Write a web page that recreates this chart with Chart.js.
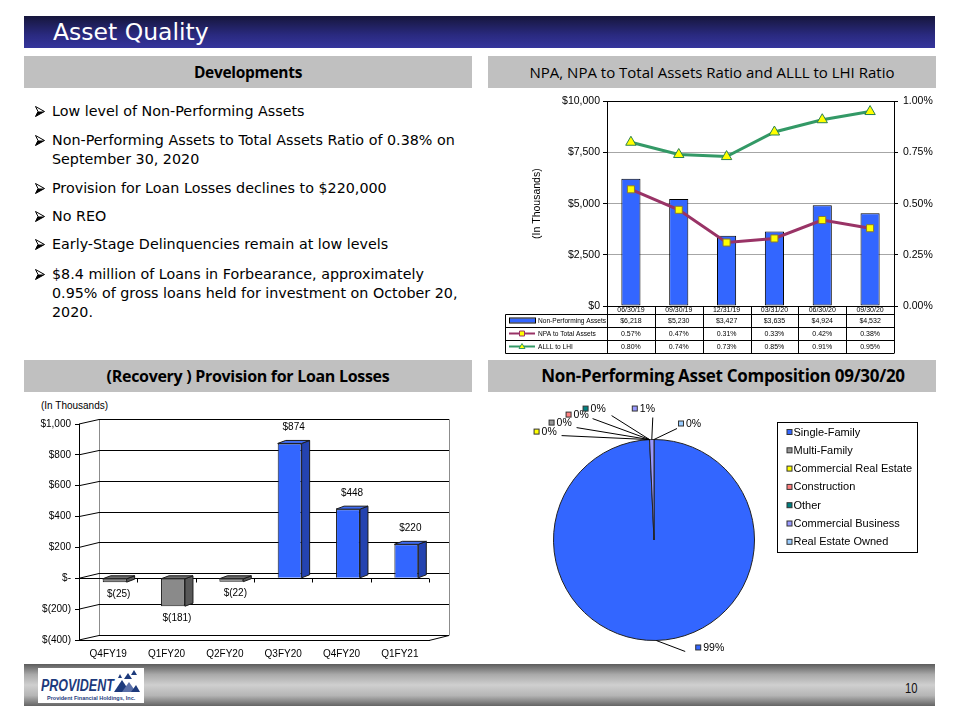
<!DOCTYPE html>
<html>
<head>
<meta charset="utf-8">
<script src="https://cdn.jsdelivr.net/npm/chart.js@4.4.0/dist/chart.umd.min.js"></script>
<style>
  html,body{margin:0;padding:0;}
  body{width:960px;height:720px;background:#fff;position:relative;overflow:hidden;font-family:"Liberation Sans",Arial,sans-serif;}
  .abs{position:absolute;}
  #titlebar{left:24px;top:16px;width:911px;height:32px;background:linear-gradient(#16163c,#2a2a80 60%,#35359c);}
  #titlebar span{position:absolute;left:29px;top:2px;color:#fff;font:23.5px "DejaVu Sans",sans-serif;line-height:28px;}
  .hdr{background:#c0c0c0;height:32px;line-height:32px;text-align:center;color:#000;white-space:nowrap;box-sizing:border-box;}
  .hb{font-family:"Open Sans",sans-serif;font-weight:bold;letter-spacing:-0.3px;}
  .hn{font-family:"Open Sans",sans-serif;}
  .bul{left:35px;white-space:nowrap;font:14.3px "DejaVu Sans",sans-serif;line-height:19px;color:#000;padding-left:17px;}
  .bul svg{position:absolute;left:0;top:4px;}
  #footer{left:24px;top:664px;width:911px;height:42px;background:linear-gradient(#5c5c5c,#a9a9a9 25%,#cfcfcf 50%,#b5b5b5 75%,#646464);}
  #logo{left:38px;top:668px;width:106px;height:35px;background:#fff;overflow:hidden;}
  canvas{position:absolute;}
</style>
</head>
<body>
<svg width="0" height="0" style="position:absolute">
  <defs>
    <g id="arrowhead">
      <polygon points="0.5,0.5 9.5,5.5 0.5,10.5 3,5.5" fill="#fff" stroke="#000" stroke-width="1" stroke-linejoin="miter"/>
      <polygon points="3,5.5 9.5,5.5 0.5,10.5" fill="#000"/>
    </g>
  </defs>
</svg>
<div id="titlebar" class="abs"><span>Asset Quality</span></div>

<div class="abs hdr hb" style="left:24px;top:56px;width:448px;font-size:15.5px;">Developments</div>
<div class="abs hdr hn" style="left:488px;top:56px;width:448px;font-size:15px;">NPA, NPA to Total Assets Ratio and ALLL to LHI Ratio</div>
<div class="abs hdr hb" style="left:24px;top:360px;width:448px;font-size:16px;">(Recovery ) Provision for Loan Losses</div>
<div class="abs hdr hb" style="left:488px;top:360px;width:448px;font-size:17px;padding-left:22px;">Non-Performing Asset Composition 09/30/20</div>

<div class="abs bul" style="top:102px;"><svg width="11" height="11"><use href="#arrowhead"/></svg>Low level of Non-Performing Assets</div>
<div class="abs bul" style="top:131px;"><svg width="11" height="11"><use href="#arrowhead"/></svg>Non-Performing Assets to Total Assets Ratio of 0.38% on<br>September 30, 2020</div>
<div class="abs bul" style="top:179px;"><svg width="11" height="11"><use href="#arrowhead"/></svg>Provision for Loan Losses declines to $220,000</div>
<div class="abs bul" style="top:207px;"><svg width="11" height="11"><use href="#arrowhead"/></svg>No REO</div>
<div class="abs bul" style="top:235px;"><svg width="11" height="11"><use href="#arrowhead"/></svg>Early-Stage Delinquencies remain at low levels</div>
<div class="abs bul" style="top:265px;"><svg width="11" height="11"><use href="#arrowhead"/></svg>$8.4 million of Loans in Forbearance, approximately<br>0.95% of gross loans held for investment on October 20,<br>2020.</div>

<canvas id="c1" width="450" height="266" style="left:490px;top:90px;width:450px;height:266px;"></canvas>

<div class="abs" style="left:41px;top:400px;font:10px 'Liberation Sans',Arial,sans-serif;">(In Thousands)</div>
<canvas id="c2" width="450" height="270" style="left:20px;top:395px;width:450px;height:270px;"></canvas>

<canvas id="c3" width="452" height="269" style="left:488px;top:393px;width:452px;height:269px;"></canvas>

<div id="footer" class="abs"></div>
<div id="logo" class="abs">
  <div class="abs" style="left:3px;top:9px;font:italic bold 16px 'Liberation Sans',sans-serif;color:#1d3a7c;transform:scaleX(0.78);transform-origin:0 0;white-space:nowrap;">PROVIDENT</div>
  <svg class="abs" style="left:73px;top:1px;" width="30" height="25" viewBox="0 0 30 25">
    <polygon points="3,23 11,11 19,23" fill="#1d3a7c"/>
    <polygon points="11,23 18,13 25,23" fill="#5a6fa8"/>
    <polygon points="13,10 17,4 21,10" fill="#1d3a7c"/>
    <polygon points="20,6 23,1 26,6" fill="#1d3a7c"/>
    <polygon points="7,9 9,5 11,9" fill="#1d3a7c"/>
    <polygon points="20,23 25,16 29,23" fill="#1d3a7c"/>
  </svg>
  <div class="abs" style="left:9px;top:27px;font:bold 5.5px 'Liberation Sans',sans-serif;color:#1d3a7c;white-space:nowrap;">Provident Financial Holdings, Inc.</div>
</div>
<div class="abs" style="left:905px;top:679px;font:15px 'Liberation Sans',sans-serif;color:#111;transform:scaleX(0.75);transform-origin:0 0;">10</div>

<script>
// ---------- Data ----------
const npaDates = ['06/30/19','09/30/19','12/31/19','03/31/20','06/30/20','09/30/20'];
const npaValues = [6218, 5230, 3427, 3635, 4924, 4532];
const npaToAssets = [0.57, 0.47, 0.31, 0.33, 0.42, 0.38];
const alllToLhi = [0.80, 0.74, 0.73, 0.85, 0.91, 0.95];
const npaRowLabels = ['Non-Performing Assets', 'NPA to Total Assets', 'ALLL to LHI'];

const provQuarters = ['Q4FY19','Q1FY20','Q2FY20','Q3FY20','Q4FY20','Q1FY21'];
const provValues = [-25, -181, -22, 874, 448, 220];

const pieCategories = ['Single-Family','Multi-Family','Commercial Real Estate','Construction','Other','Commercial Business','Real Estate Owned'];
const pieShares = [99.3, 0, 0, 0, 0, 0.7, 0];
const pieColors = ['#3366FF','#969696','#FFFF00','#FF8080','#008080','#9999FF','#99CCFF'];

const FONT = '"Liberation Sans", Arial, sans-serif';
const fmtMoney = v => '$' + v.toLocaleString('en-US');
const fmtPct = v => v.toFixed(2) + '%';
const fmtProv = v => v === 0 ? '$-' : (v < 0 ? '$(' + Math.abs(v).toLocaleString('en-US') + ')' : '$' + v.toLocaleString('en-US'));

// ---------- Chart 1: NPA combo with data table ----------
const crisp = v => Math.round(v) + 0.5;
const tablePlugin = {
  id: 'npaTable',
  afterDraw(chart) {
    const ctx = chart.ctx, ca = chart.chartArea;
    const n = npaDates.length, cw = (ca.right - ca.left) / n;
    const L = ca.left - 102, T = ca.bottom, dh = 8, rh = 13;
    ctx.save();
    ctx.strokeStyle = '#000'; ctx.lineWidth = 1;
    ctx.font = '7px ' + FONT; ctx.fillStyle = '#000';
    ctx.textBaseline = 'middle';
    ctx.beginPath();
    for (let i = 0; i <= n; i++) { const x = crisp(ca.left + i * cw); ctx.moveTo(x, T); ctx.lineTo(x, T + dh + rh * 3); }
    ctx.moveTo(crisp(L), crisp(T + dh)); ctx.lineTo(crisp(L), crisp(T + dh + rh * 3));
    for (let r = 0; r <= 3; r++) { const y = crisp(T + dh + r * rh); ctx.moveTo(crisp(L), y); ctx.lineTo(crisp(ca.right), y); }
    ctx.stroke();
    ctx.textAlign = 'center';
    npaDates.forEach((d, i) => ctx.fillText(d, ca.left + (i + 0.5) * cw, T + dh / 2 + 0.5));
    const rows = [npaValues.map(fmtMoney), npaToAssets.map(fmtPct), alllToLhi.map(fmtPct)];
    rows.forEach((row, r) => {
      const ym = T + dh + r * rh + rh / 2;
      row.forEach((t, i) => ctx.fillText(t, ca.left + (i + 0.5) * cw, ym + 0.5));
    });
    ctx.textAlign = 'left';
    ctx.font = '6.6px ' + FONT;
    const kx0 = L + 4, kx1 = L + 30, km = (kx0 + kx1) / 2;
    npaRowLabels.forEach((lab, r) => {
      const ym = T + dh + r * rh + rh / 2;
      if (r === 0) {
        ctx.fillStyle = '#3366FF'; ctx.fillRect(kx0, ym - 2, kx1 - kx0, 4);
        ctx.strokeStyle = '#000'; ctx.strokeRect(kx0 + 0.5, ym - 2.5, kx1 - kx0, 5);
      } else {
        const col = r === 1 ? '#993366' : '#339966';
        ctx.strokeStyle = col; ctx.lineWidth = 2;
        ctx.beginPath(); ctx.moveTo(kx0, ym); ctx.lineTo(kx1, ym); ctx.stroke();
        ctx.lineWidth = 1; ctx.fillStyle = '#FFFF00';
        ctx.beginPath();
        if (r === 1) { ctx.rect(km - 2.5, ym - 2.5, 5, 5); }
        else { ctx.moveTo(km, ym - 3); ctx.lineTo(km + 3, ym + 2); ctx.lineTo(km - 3, ym + 2); ctx.closePath(); }
        ctx.fill(); ctx.stroke();
      }
      ctx.fillStyle = '#000';
      ctx.fillText(lab, L + 33, ym + 0.5);
    });
    ctx.restore();
  }
};

new Chart(document.getElementById('c1'), {
  type: 'bar',
  data: {
    labels: npaDates,
    datasets: [
      { type: 'line', label: 'ALLL to LHI', data: alllToLhi, yAxisID: 'y2', order: 0,
        borderColor: '#339966', borderWidth: 3, tension: 0,
        pointStyle: 'triangle', pointRadius: 6, pointBackgroundColor: '#FFFF00', pointBorderColor: '#2a8050', pointBorderWidth: 1 },
      { type: 'line', label: 'NPA to Total Assets', data: npaToAssets, yAxisID: 'y2', order: 1,
        borderColor: '#993366', borderWidth: 3, tension: 0,
        pointStyle: 'rect', pointRadius: 5, pointBackgroundColor: '#FFFF00', pointBorderColor: '#8a7a30', pointBorderWidth: 1 },
      { type: 'bar', label: 'Non-Performing Assets', data: npaValues, yAxisID: 'y', order: 2,
        backgroundColor: '#3366FF', borderColor: '#000', borderWidth: 1, borderSkipped: false,
        barPercentage: 0.4, categoryPercentage: 1 }
    ]
  },
  options: {
    responsive: false, animation: false,
    layout: { padding: { top: 4, left: 0, right: 0, bottom: 0 } },
    plugins: { legend: { display: false }, tooltip: { enabled: false } },
    scales: {
      x: { grid: { display: false }, border: { display: false }, ticks: { display: false },
           afterFit(s) { s.height = 50; } },
      y: { position: 'left', min: 0, max: 10000,
           ticks: { stepSize: 2500, color: '#000', padding: 3, font: { family: FONT, size: 10.5 }, callback: fmtMoney },
           grid: { color: c => (c.tick && (c.tick.value === 10000 || c.tick.value === 0)) ? '#000' : '#a6a6a6', tickColor: '#000', tickLength: 4, lineWidth: 1 },
           border: { color: '#000' },
           title: { display: true, text: '(In Thousands)', color: '#000', font: { family: FONT, size: 10.5 }, padding: { top: 41, bottom: 0 } },
           afterFit(s) { s.width = 117; } },
      y2: { position: 'right', min: 0, max: 1,
           ticks: { stepSize: 0.25, color: '#000', padding: 5, font: { family: FONT, size: 10.5 }, callback: v => v.toFixed(2) + '%' },
           grid: { drawOnChartArea: false, tickColor: '#000', tickLength: 4 },
           border: { color: '#000' },
           afterFit(s) { s.width = 46; } }
    }
  },
  plugins: [tablePlugin]
});

// ---------- Chart 2: 3D-look provision bar chart ----------
const DX = 20, DY = -5, BDX = 8, BDY = -3, BAR_SHIFT = 6.5;
const wallPlugin = {
  id: 'wall3d',
  afterDatasetsUpdate(chart) {
    chart.getDatasetMeta(0).data.forEach(b => { b.x += BAR_SHIFT; });
  },
  beforeDatasetsDraw(chart) {
    const ctx = chart.ctx, ca = chart.chartArea, ys = chart.scales.y;
    const L = ca.left, R = ca.right, T = ca.top, B = ca.bottom;
    ctx.save();
    ctx.lineWidth = 1;
    ctx.strokeStyle = '#8c8c8c';
    ctx.beginPath();
    ctx.moveTo(crisp(L + DX), crisp(B + DY)); ctx.lineTo(crisp(L + DX), crisp(T + DY));
    ctx.lineTo(crisp(R + DX), crisp(T + DY)); ctx.lineTo(crisp(R + DX), crisp(B + DY));
    ctx.stroke();
    ctx.strokeStyle = '#000';
    ctx.beginPath();
    ys.ticks.forEach(t => {
      const y = ys.getPixelForValue(t.value);
      ctx.moveTo(L, y); ctx.lineTo(L + DX, crisp(y + DY)); ctx.lineTo(R + DX, crisp(y + DY));
    });
    ctx.moveTo(R, crisp(B)); ctx.lineTo(R + DX, crisp(B + DY));
    ctx.stroke();
    const y0 = crisp(ys.getPixelForValue(0));
    const n = provQuarters.length, cw = (R - L) / n;
    ctx.beginPath();
    ctx.moveTo(L, y0); ctx.lineTo(R, y0);
    for (let i = 1; i <= n; i++) { const x = crisp(L + i * cw); ctx.moveTo(x, y0); ctx.lineTo(x, y0 + 4); }
    ctx.stroke();
    ctx.restore();
  },
  afterDatasetsDraw(chart) {
    const ctx = chart.ctx;
    ctx.save();
    ctx.lineWidth = 1; ctx.strokeStyle = '#1a1a1a';
    chart.getDatasetMeta(0).data.forEach((b, i) => {
      const p = b.getProps(['x', 'y', 'base', 'width'], true);
      const l = p.x - p.width / 2, r = p.x + p.width / 2;
      const top = Math.min(p.y, p.base), bot = Math.max(p.y, p.base);
      const pos = provValues[i] >= 0;
      ctx.fillStyle = pos ? '#2443b0' : '#585858';
      ctx.beginPath(); ctx.moveTo(r, top); ctx.lineTo(r + BDX, top + BDY); ctx.lineTo(r + BDX, bot + BDY); ctx.lineTo(r, bot); ctx.closePath();
      ctx.fill(); ctx.stroke();
      ctx.fillStyle = pos ? '#3f6cf2' : '#6e6e6e';
      ctx.beginPath(); ctx.moveTo(l, top); ctx.lineTo(l + BDX, top + BDY); ctx.lineTo(r + BDX, top + BDY); ctx.lineTo(r, top); ctx.closePath();
      ctx.fill(); ctx.stroke();
    });
    ctx.fillStyle = '#000'; ctx.font = '10px ' + FONT; ctx.textAlign = 'center'; ctx.textBaseline = 'middle';
    chart.getDatasetMeta(0).data.forEach((b, i) => {
      const p = b.getProps(['x', 'y', 'base'], true);
      const v = provValues[i];
      const y = v >= 0 ? p.y - 16 : p.y + 12;
      ctx.fillText(fmtProv(v), p.x + 4, y);
    });
    ctx.restore();
  }
};

new Chart(document.getElementById('c2'), {
  type: 'bar',
  data: {
    labels: provQuarters,
    datasets: [{
      data: provValues,
      backgroundColor: provValues.map(v => v >= 0 ? '#3366FF' : '#8a8a8a'),
      borderColor: '#1a1a1a', borderWidth: 1,
      barPercentage: 0.41, categoryPercentage: 1
    }]
  },
  options: {
    responsive: false, animation: false,
    layout: { padding: { top: 29, right: 41, left: 0, bottom: 0 } },
    plugins: { legend: { display: false }, tooltip: { enabled: false } },
    scales: {
      x: { grid: { display: false }, border: { display: true, color: '#000' },
           ticks: { color: '#000', padding: 0, font: { family: FONT, size: 10 } },
           afterFit(s) { s.height = 25; } },
      y: { min: -400, max: 1000,
           ticks: { stepSize: 200, color: '#000', padding: 4, font: { family: FONT, size: 10 }, callback: fmtProv },
           grid: { drawOnChartArea: false, tickColor: '#000', tickLength: 4 },
           border: { color: '#000' },
           afterFit(s) { s.width = 59; } }
    }
  },
  plugins: [wallPlugin]
});

// ---------- Chart 3: NPA composition pie ----------
const pieLabelPlugin = {
  id: 'pieLabels',
  afterDraw(chart, args, opts) {
    const ctx = chart.ctx, ca = chart.chartArea;
    const ds = chart.data.datasets[0];
    const total = ds.data.reduce((a, b) => a + b, 0);
    ctx.save();
    ctx.font = '10.5px ' + FONT; ctx.textBaseline = 'middle'; ctx.textAlign = 'left';
    chart.getDatasetMeta(0).data.forEach((arc, i) => {
      const pl = opts.place[i];
      const mid = (arc.startAngle + arc.endAngle) / 2;
      const ax = arc.x + Math.cos(mid) * arc.outerRadius, ay = arc.y + Math.sin(mid) * arc.outerRadius;
      ctx.strokeStyle = '#000'; ctx.lineWidth = 1;
      ctx.beginPath(); ctx.moveTo(ax, ay); ctx.lineTo(ax + pl.ex, ay + pl.ey); ctx.stroke();
      const mx = ax + pl.mx, my = ay + pl.my;
      ctx.fillStyle = ds.backgroundColor[i];
      ctx.fillRect(mx - 2.5, my - 2.5, 5, 5);
      ctx.strokeStyle = '#333'; ctx.strokeRect(mx - 2.5, my - 2.5, 5, 5);
      ctx.fillStyle = '#000';
      ctx.fillText(Math.round(ds.data[i] / total * 100) + '%', mx + 5, my + 0.5);
    });
    const lx = ca.right + 22, ly = ca.top - 17, lw = 140, lh = 130;
    ctx.strokeStyle = '#000'; ctx.lineWidth = 1;
    ctx.strokeRect(crisp(lx), crisp(ly), lw, lh);
    ctx.font = '11px ' + FONT;
    pieCategories.forEach((c, i) => {
      const ym = ly + 10 + i * 18.3;
      ctx.fillStyle = pieColors[i];
      ctx.fillRect(lx + 10, ym - 2.5, 5, 5);
      ctx.strokeStyle = '#333'; ctx.strokeRect(lx + 10, ym - 2.5, 5, 5);
      ctx.fillStyle = '#000';
      ctx.fillText(c, lx + 16.5, ym + 0.5);
    });
    ctx.restore();
  }
};

new Chart(document.getElementById('c3'), {
  type: 'pie',
  data: {
    labels: pieCategories,
    datasets: [{ data: pieShares, backgroundColor: pieColors, borderColor: '#222', borderWidth: 1 }]
  },
  options: {
    responsive: false, animation: false,
    layout: { padding: { left: 65, top: 46, right: 185, bottom: 21 } },
    plugins: {
      legend: { display: false }, tooltip: { enabled: false },
      pieLabels: {
        place: [
          { ex: 29, ey: 11, mx: 42, my: 7 },
          { ex: -73, ey: -12, mx: -98, my: -17 },
          { ex: -88, ey: -4, mx: -113, my: -8 },
          { ex: -57, ey: -21, mx: -81, my: -25 },
          { ex: -38, ey: -24, mx: -64, my: -31 },
          { ex: 1, ey: -22, mx: -17, my: -31 },
          { ex: 23, ey: -11, mx: 27, my: -16 }
        ]
      }
    }
  },
  plugins: [pieLabelPlugin]
});
</script>
</body>
</html>
